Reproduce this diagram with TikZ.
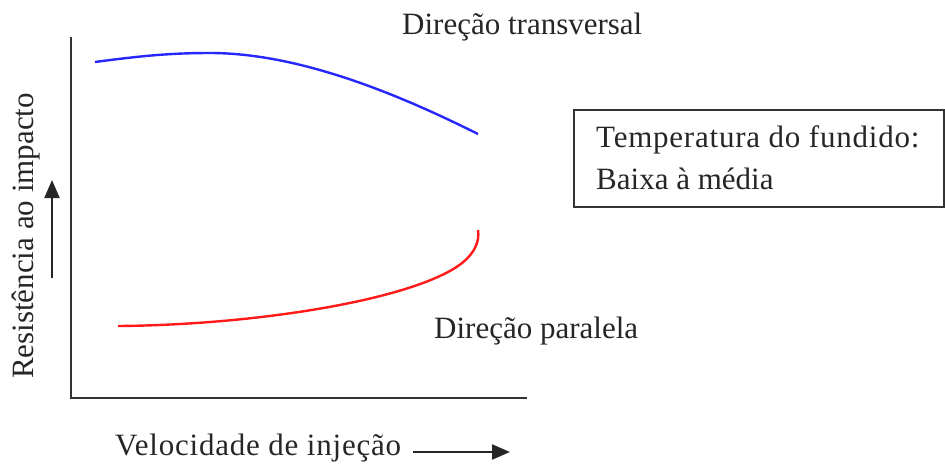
\documentclass[tikz,border=0pt]{standalone}
\usepackage{fontspec}
\setmainfont{Liberation Serif}
\usetikzlibrary{arrows.meta}
\begin{document}
\begin{tikzpicture}[x=1pt,y=-1pt,
  lbl/.style={inner sep=0pt,anchor=west,font=\fontsize{31}{36}\selectfont,text=black!85},
  axis/.style={draw=black!80,line width=2.6pt},
  arr/.style={draw=black!85,line width=2.2pt,-{Triangle[length=18pt,width=15pt]}}]
\useasboundingbox (0,0) rectangle (945,467);
% axes
\coordinate (ytop) at (71,37);
\coordinate (orig) at (71,398);
\coordinate (xend) at (527,398);
\draw[axis] (ytop) -- (orig) -- (xend);
% curves
\draw[blue!85!white,line width=2.4pt] (95,62) .. controls (140,56) and (170,53) .. (210,53) .. controls (300,53) and (400,95) .. (478,134);
\draw[red!90!white,line width=2.4pt] (118,326) .. controls (250,325) and (400,302) .. (455,268) .. controls (474,256) and (480,242) .. (478,230);
% labels
\node[lbl] (trans) at (402,27) {Direção transversal};
\node[lbl] (para) at (434,331) {Direção paralela};
\node[lbl,font=\fontsize{31}{36}\selectfont\addfontfeatures{LetterSpace=2.5}] (vel) at (115,448) {Velocidade de injeção};
\node[lbl,anchor=center,rotate=90] (res) at (26,236) {Resistência ao impacto};
% arrows
\coordinate (ya) at (52,278);
\coordinate (yb) at (52,180);
\draw[arr] (ya) -- (yb);
\coordinate (xa) at (413,452);
\coordinate (xb) at (510,452);
\draw[arr] (xa) -- (xb);
% box
\node[draw=black!80,line width=2.2pt,minimum width=370pt,minimum height=97pt,anchor=north west,inner sep=0pt] (box) at (573,109) {};
\node[lbl,font=\fontsize{31}{36}\selectfont\addfontfeatures{LetterSpace=2.5}] (t1) at (596,140) {Temperatura do fundido:};
\node[lbl] (t2) at (596,179) {Baixa à média};
\end{tikzpicture}
\end{document}
